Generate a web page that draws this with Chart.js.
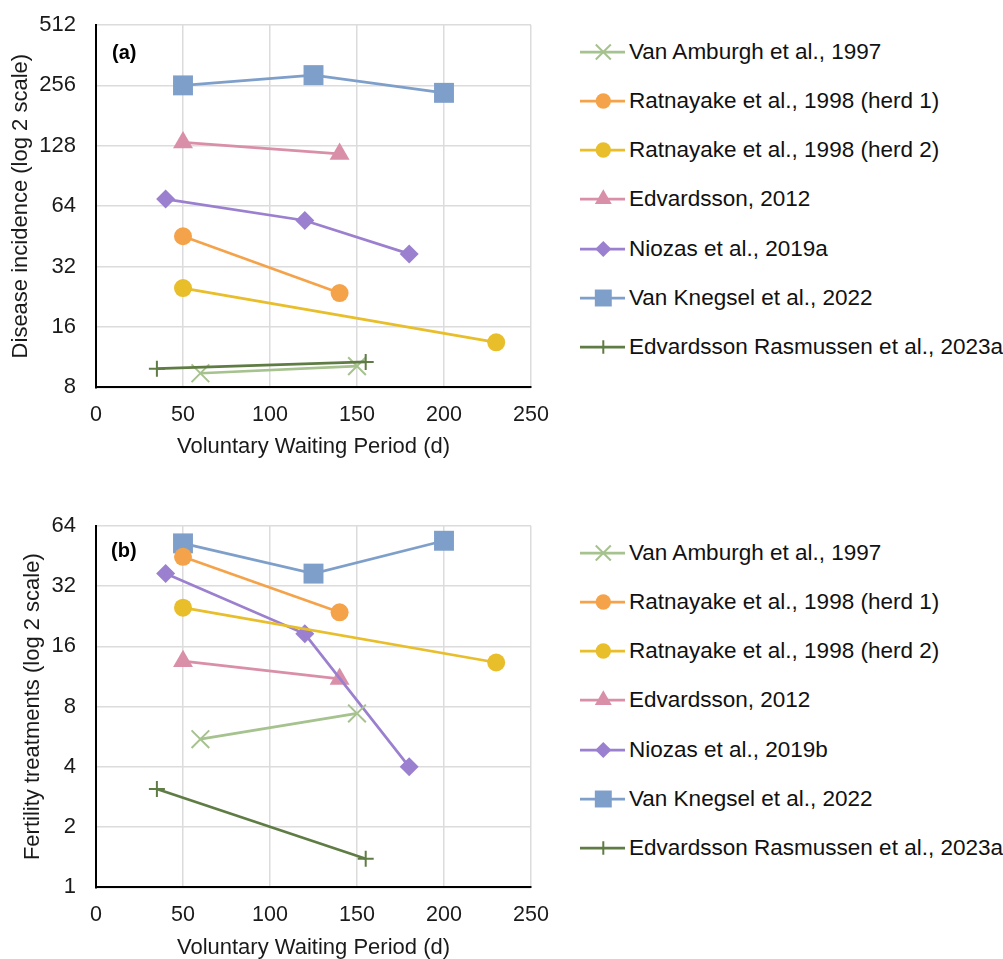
<!DOCTYPE html>
<html><head><meta charset="utf-8">
<script src="https://cdn.jsdelivr.net/npm/chart.js@4.4.1/dist/chart.umd.min.js"></script>
<style>
html,body{margin:0;padding:0;background:#fff;overflow:hidden;width:1003px;height:959px;}
.wrap{position:absolute;left:0;width:560px;}
.lbl{position:absolute;font-family:"Liberation Sans",Arial,sans-serif;font-weight:bold;font-size:20px;color:#000;line-height:20px;}
.legsym{position:absolute;left:578px;}
.legtxt{position:absolute;left:629px;font-family:"Liberation Sans",Arial,sans-serif;font-size:22.5px;line-height:26px;color:#111;white-space:nowrap;}
</style></head><body>
<div class="wrap" style="top:0;height:480px"><canvas id="cA" width="560" height="480"></canvas></div>
<div class="wrap" style="top:480px;height:500px"><canvas id="cB" width="560" height="500"></canvas></div>
<div class="lbl" style="left:112px;top:42px">(a)</div>
<div class="lbl" style="left:111px;top:540px">(b)</div>
<div id="legends"></div>
<script>
// ---- data ----
const namesA = ['Van Amburgh et al., 1997','Ratnayake et al., 1998 (herd 1)','Ratnayake et al., 1998 (herd 2)','Edvardsson, 2012','Niozas et al., 2019a','Van Knegsel et al., 2022','Edvardsson Rasmussen et al., 2023a'];
const namesB = ['Van Amburgh et al., 1997','Ratnayake et al., 1998 (herd 1)','Ratnayake et al., 1998 (herd 2)','Edvardsson, 2012','Niozas et al., 2019b','Van Knegsel et al., 2022','Edvardsson Rasmussen et al., 2023a'];

const vwpVanAmburgh = [60, 150];
const vwpRatnayake1 = [50, 140];
const vwpRatnayake2 = [50, 230];
const vwpEdvardsson = [50, 140];
const vwpNiozas = [40, 120, 180];
const vwpVanKnegsel = [50, 125, 200];
const vwpEdvRasmussen = [35, 155];

const diseaseVanAmburgh = [9.4, 10.2];
const diseaseRatnayake1 = [45.3, 23.6];
const diseaseRatnayake2 = [25, 13.4];
const diseaseEdvardsson = [133, 116.5];
const diseaseNiozas = [69.4, 54.3, 37];
const diseaseVanKnegsel = [256, 288, 235];
const diseaseEdvRasmussen = [9.9, 10.7];

const fertVanAmburgh = [5.5, 7.4];
const fertRatnayake1 = [44.9, 23.7];
const fertRatnayake2 = [25, 13.3];
const fertEdvardsson = [13.5, 11];
const fertNiozas = [37, 18.5, 4];
const fertVanKnegsel = [52.4, 37, 54];
const fertEdvRasmussen = [3.1, 1.39];

const xTicks = [0, 50, 100, 150, 200, 250];
const yTicksA = [8, 16, 32, 64, 128, 256, 512];
const yTicksB = [1, 2, 4, 8, 16, 32, 64];

// ---- styles ----
const styles = [
  {color:'#a6c28e', style:'crossRot', r:12.5, bw:2},
  {color:'#f5a34a', style:'circle', r:9, bw:0},
  {color:'#e8be2b', style:'circle', r:9, bw:0},
  {color:'#d98fa8', style:'triangle', r:11.5, bw:0},
  {color:'#9b80cf', style:'rectRot', r:9.5, bw:0},
  {color:'#7f9fcb', style:'rect', r:14.1, bw:0},
  {color:'#5f7c45', style:'cross', r:8, bw:2}
];
const xsAll = [vwpVanAmburgh, vwpRatnayake1, vwpRatnayake2, vwpEdvardsson, vwpNiozas, vwpVanKnegsel, vwpEdvRasmussen];
const ysA = [diseaseVanAmburgh, diseaseRatnayake1, diseaseRatnayake2, diseaseEdvardsson, diseaseNiozas, diseaseVanKnegsel, diseaseEdvRasmussen];
const ysB = [fertVanAmburgh, fertRatnayake1, fertRatnayake2, fertEdvardsson, fertNiozas, fertVanKnegsel, fertEdvRasmussen];

const FONT = '"Liberation Sans", Arial, sans-serif';
const drawOrder = [6, 0, 2, 1, 4, 3, 5];

function makeChart(id, names, ys, yTicks, yTitle, cfg) {
  const datasets = drawOrder.map(i => ({
    label: names[i],
    data: xsAll[i].map((x, k) => ({x: x, y: ys[i][k]})),
    borderColor: styles[i].color,
    backgroundColor: styles[i].color,
    pointBackgroundColor: styles[i].color,
    pointBorderColor: styles[i].color,
    pointStyle: styles[i].style,
    pointRadius: styles[i].r,
    pointHoverRadius: styles[i].r,
    pointBorderWidth: styles[i].bw,
    borderWidth: 2.75,
    fill: false,
    tension: 0,
    clip: false
  }));
  return new Chart(document.getElementById(id), {
    type: 'line',
    data: {datasets},
    options: {
      responsive: false, animation: false, events: [],
      layout: {autoPadding: false, padding: {left: 0, right: cfg.right, top: cfg.top, bottom: 0}},
      plugins: {legend: {display: false}, tooltip: {enabled: false}},
      scales: {
        x: {
          type: 'linear', min: 0, max: 250,
          afterBuildTicks: s => { s.ticks = xTicks.map(v => ({value: v})); },
          ticks: {font: {family: FONT, size: 21.5}, color: '#1a1a1a', padding: cfg.xPad, maxRotation: 0},
          grid: {color: '#dcdcdc', lineWidth: 1.5, drawTicks: false},
          border: {color: '#000', width: 2},
          title: {display: true, text: 'Voluntary Waiting Period (d)', font: {family: FONT, size: 22}, color: '#1a1a1a', padding: {top: 0, bottom: cfg.xTitlePad}},
          afterFit: s => { s.height = cfg.xH; s.paddingLeft = 0; s.paddingRight = 0; s.paddingTop = 0; s.paddingBottom = 0; }
        },
        y: {
          type: 'logarithmic', min: yTicks[0], max: yTicks[yTicks.length - 1],
          afterBuildTicks: s => { s.ticks = yTicks.map(v => ({value: v})); },
          ticks: {font: {family: FONT, size: 22}, color: '#1a1a1a', padding: 20, callback: v => String(v)},
          grid: {color: '#dcdcdc', lineWidth: 1.5, drawTicks: false},
          border: {color: '#000', width: 2},
          title: {display: true, text: yTitle, font: {family: FONT, size: 22}, color: '#1a1a1a', padding: {top: cfg.yTitlePad, bottom: 0}},
          afterFit: s => { s.width = 96; s.paddingLeft = 0; s.paddingRight = 0; s.paddingTop = 0; s.paddingBottom = 0; }
        }
      }
    }
  });
}

makeChart('cA', namesA, ysA, yTicksA, 'Disease incidence (log 2 scale)',
  {right: 29, top: 25, xH: 92.7, xPad: 15, xTitlePad: 20, yTitlePad: 8});
makeChart('cB', namesB, ysB, yTicksB, 'Fertility treatments (log 2 scale)',
  {right: 29, top: 46, xH: 92.7, xPad: 15, xTitlePad: 19, yTitlePad: 20});

// ---- HTML legends ----
function drawSym(ctx, st, x, y, scale) {
  ctx.save();
  ctx.fillStyle = st.color; ctx.strokeStyle = st.color;
  ctx.lineWidth = st.bw;
  Chart.helpers.drawPoint(ctx, {pointStyle: st.style, radius: st.r * scale, borderWidth: st.bw, rotation: 0}, x, y);
  ctx.restore();
}
function buildLegend(names, y0, dy) {
  const host = document.getElementById('legends');
  names.forEach((n, i) => {
    const yc = y0 + i * dy;
    const c = document.createElement('canvas');
    c.width = 50; c.height = 30; c.className = 'legsym';
    c.style.top = (yc - 15) + 'px';
    host.appendChild(c);
    const ctx = c.getContext('2d');
    ctx.strokeStyle = styles[i].color; ctx.lineWidth = 2.75;
    ctx.beginPath(); ctx.moveTo(2, 15); ctx.lineTo(47, 15); ctx.stroke();
    drawSym(ctx, styles[i], 25.3, 15, 0.85);
    const t = document.createElement('div');
    t.className = 'legtxt'; t.textContent = n;
    t.style.top = (yc - 13) + 'px';
    host.appendChild(t);
  });
}
buildLegend(namesA, 52.3, 49.05);
buildLegend(namesB, 553.3, 49.05);
</script>
</body></html>
